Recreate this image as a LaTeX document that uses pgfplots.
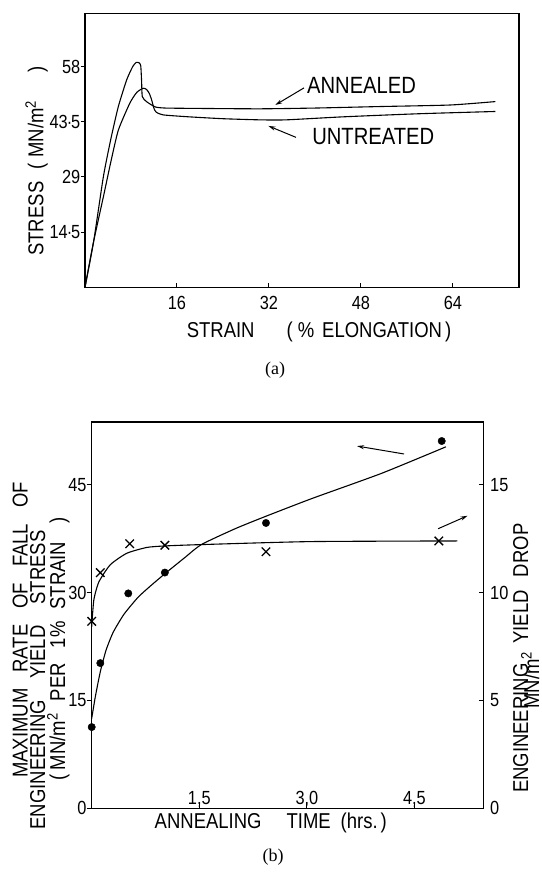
\documentclass[border=0pt]{standalone}
\usepackage{fontspec}
\setmainfont{Liberation Sans}[FakeStretch=0.86]
\newfontfamily\capfont{Liberation Serif}
\usepackage{pgfplots}
\pgfplotsset{compat=1.18}
\usetikzlibrary{arrows.meta}

\newcommand{\tk}{\fontsize{19bp}{21bp}\selectfont}
\newcommand{\lb}{\fontsize{21.5bp}{24bp}\selectfont}
\newcommand{\nt}{\fontsize{23.5bp}{26bp}\selectfont}
\newcommand{\sq}{\textsuperscript{2}}
\newcommand{\W}[1]{\hspace{#1bp}}

\tikzset{
  curve/.style={black, line width=1.1bp, smooth, tension=0.35},
  note/.style={-{Stealth[length=7bp,width=4bp]}, line width=1bp},
  vlabel/.style={font=\lb, rotate=90, anchor=base, inner sep=0pt},
}
\pgfplotsset{
  common/.style={
    scale only axis, anchor=south west,
    axis line style={line width=1.3bp},
    tick align=inside, major tick length=4.5bp,
    tick style={line width=1bp, black},
    tick label style={font=\tk, inner sep=0pt},
    /pgf/number format/assume math mode=true,
    clip=false,
  },
}

\begin{document}
\begin{tikzpicture}
\useasboundingbox (0bp,0bp) rectangle (542bp,874bp);

% ---------------- (a) stress-strain curves ----------------
\begin{axis}[common,
  at={(85bp,586.7bp)}, width=434bp, height=274bp,
  xmin=0, xmax=75.5, ymin=0, ymax=72,
  xtick={16,32,48,64}, xtick pos=left,
  ytick={14.5,29,43.5,58}, ytick pos=left,
  yticklabels={{14{\kern-1bp}·{\kern-1bp}5},29,{43{\kern-1bp}·{\kern-1bp}5},58},
  ytick style={xshift=-4bp},
  xticklabel style={anchor=north, yshift=-9bp},
  yticklabel style={anchor=east, xshift=-4.5bp},
]
% annealed
\addplot[curve] coordinates {
  (0,0) (1.5,12) (3.2,29.1) (4.5,39) (5.8,47.5) (7.25,54.5) (8.3,58)
  (8.9,59.1) (9.4,59.0) (9.7,58.2) (9.85,54) (9.97,50.1) (10.7,48.8)
  (12.2,47.4) (14,47.1) (20,47.0) (30.4,46.9) (40,47.1) (51.4,47.5)
  (63.5,47.9) (71.4,48.8)};
% untreated
\addplot[curve] coordinates {
  (0,0) (1.44,11.6) (3.2,23.8) (4.5,33) (5.8,41.3) (7.8,48.4) (9.0,51.2)
  (10.1,52.3) (10.7,52) (11.2,50.9) (11.6,49.2) (12.0,47) (12.4,46)
  (13.6,45.3) (18,44.8) (24,44.3) (30.4,44.0) (35,44.0) (45,44.8)
  (58,45.6) (71.4,46.2)};
\node[font=\nt, anchor=west, inner sep=0pt] at (axis cs:38.6,53.0) {ANNEALED};
\node[font=\nt, anchor=west, inner sep=0pt] at (axis cs:39.5,39.6) {UNTREATED};
\draw[note] (axis cs:38.1,52.4) -- (axis cs:33.1,47.9);
\draw[note] (axis cs:36.7,39.4) -- (axis cs:31.9,42.4);
\end{axis}

\node[vlabel] at (43.3bp,713bp)
  {STRESS\W{12}(\W{6}MN/m\sq\W{28})};
\node[font=\lb] at (319bp,542.3bp)
  {STRAIN\W{32}(\W{5}\%\W{8}ELONGATION\W{3})};
\node[font={\capfont\fontsize{18bp}{20bp}\selectfont}] at (275bp,504bp) {(a)};

% ---------------- (b) effect of annealing time ----------------
\begin{axis}[common,
  at={(91.7bp,65.7bp)}, width=391.6bp, height=386.3bp,
  xmin=0, xmax=5.46, ymin=0, ymax=53.75,
  xtick={1.5,3,4.5}, xticklabels={{1,5},{3,0},{4,5}}, xtick pos=left,
  ytick={0,15,30,45}, ytick pos=left,
  ytick style={xshift=-5bp},
  xticklabel style={anchor=base, yshift=4bp},
  yticklabel style={anchor=east, xshift=-5bp},
]
% maximum rate of fall of yield stress
\addplot[curve] coordinates {
  (0,12.5) (0.05,15.5) (0.12,19) (0.2,22) (0.3,24.5) (0.45,27) (0.65,29.4)
  (0.85,31.2) (1.04,32.8) (1.3,34.9) (1.53,36.7) (2.0,38.9) (2.42,40.6)
  (3.07,43.1) (4.04,46.6) (4.94,50.3)};
\addplot[only marks, mark=*, mark size=3.7bp] coordinates {
  (0,11.3) (0.12,20.2) (0.51,29.9) (1.02,32.8) (2.43,39.7) (4.88,51.1)};
\draw[note] (axis cs:4.355,49.3) -- (axis cs:3.70,50.4);
\draw[note] (axis cs:4.83,38.9) -- (axis cs:5.24,40.7);
\end{axis}

\begin{axis}[common,
  at={(91.7bp,65.7bp)}, width=391.6bp, height=386.3bp,
  xmin=0, xmax=5.46, ymin=0, ymax=17.917,
  hide x axis,
  ytick={0,5,10,15}, ytick pos=right,
  yticklabel style={anchor=west, xshift=6.7bp},
]
% engineering yield drop
\addplot[curve] coordinates {
  (0,8.43) (0.03,9.67) (0.1,10.5) (0.26,11.3) (0.49,11.83) (0.77,12.1)
  (1.03,12.17) (1.52,12.23) (3.05,12.37) (5.1,12.4)};
\addplot[only marks, mark=x, mark size=6bp, mark options={line width=1.3bp}]
  coordinates {(0,8.67) (0.12,10.93) (0.53,12.27) (1.02,12.2) (2.43,11.9) (4.84,12.4)};
\end{axis}

\node[vlabel] at (27.5bp,244bp)
  {MAXIMUM\W{16}RATE\W{16}OF\W{16}FALL\W{16}OF};
\node[vlabel] at (45bp,194bp)
  {ENGINEERING\W{21}YIELD\W{21}STRESS};
\node[vlabel] at (65bp,225bp)
  {(\W{4}MN/m\sq\W{12}PER\W{15}1\%\W{12}STRAIN\W{18})};
\node[vlabel] at (528bp,215.7bp)
  {ENGINEERING\W{20}YIELD\W{13}DROP};
\node[vlabel] at (539bp,194bp) {MN/m\sq};
\node[font=\lb] at (270.8bp,51bp)
  {ANNEALING\W{25}TIME\W{10}(hrs.\W{3})};
\node[font={\capfont\fontsize{18bp}{20bp}\selectfont}] at (273bp,17.3bp) {(b)};
\end{tikzpicture}
\end{document}
